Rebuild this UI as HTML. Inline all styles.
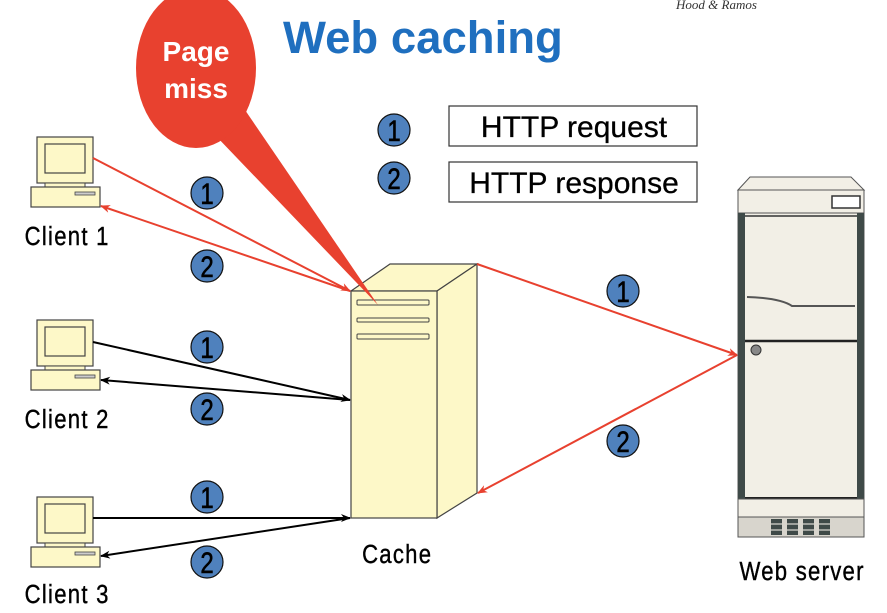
<!DOCTYPE html>
<html><head><style>
body{margin:0;background:#fff;}
svg{display:block;font-family:"Liberation Sans",sans-serif;}
</style></head><body>
<svg width="887" height="613" viewBox="0 0 887 613" xmlns="http://www.w3.org/2000/svg">
<defs>
<marker id="ar" markerWidth="10" markerHeight="8" refX="9" refY="4" orient="auto" markerUnits="userSpaceOnUse"><path d="M0,0 L10,4 L0,8 L3,4z" fill="#e8412f"/></marker>
<marker id="ab" markerWidth="10" markerHeight="8" refX="9" refY="4" orient="auto" markerUnits="userSpaceOnUse"><path d="M0,0 L10,4 L0,8 L3,4z" fill="#000"/></marker>
<g id="pc">
<rect x="37" y="0" width="56" height="46" fill="#fdf8c8" stroke="#444" stroke-width="1.2"/>
<rect x="45" y="7" width="40" height="29" fill="#fdf8c8" stroke="#444" stroke-width="1.2"/>
<rect x="45" y="46" width="40" height="4" fill="#fdf8c8" stroke="#444"/>
<rect x="31" y="50" width="69" height="20" fill="#fdf8c8" stroke="#444" stroke-width="1.2"/>
<rect x="75" y="55" width="20" height="3" fill="#ccc" stroke="#444" stroke-width="0.8"/>
</g>
</defs>
<text x="283" y="53" font-size="45.5" font-weight="bold" fill="#1f6fbf">Web caching</text>
<text x="676" y="9" font-size="13" font-style="italic" fill="#333" font-family="Liberation Serif,serif">Hood &amp; Ramos</text>

<use href="#pc" y="137"/>
<use href="#pc" y="320"/>
<use href="#pc" y="497"/>
<g font-size="26" fill="#000" stroke="#000" stroke-width="0.4" letter-spacing="1.5" transform="scale(0.85,1)">
<text x="29" y="245">Client 1</text>
<text x="29" y="428">Client 2</text>
<text x="29" y="603">Client 3</text>
<text x="426" y="563">Cache</text>
<text x="870" y="580">Web server</text>
</g>

<polygon points="351,291 390,264 477,264 437,291" fill="#fdf8c8" stroke="#444" stroke-width="1.2"/>
<polygon points="437,291 477,264 477,493 437,518" fill="#fdf8c8" stroke="#444" stroke-width="1.2"/>
<rect x="351" y="291" width="86" height="227" fill="#fdf8c8" stroke="#444" stroke-width="1.2"/>
<rect x="357" y="300" width="72" height="5" rx="1" fill="#fdf8c8" stroke="#444"/>
<rect x="357" y="318" width="72" height="4" rx="1" fill="#fdf8c8" stroke="#444"/>
<rect x="357" y="334" width="72" height="5" rx="1" fill="#fdf8c8" stroke="#444"/>

<polygon points="738,190 750,177 851,177 864,190" fill="#f2efe6" stroke="#555"/>
<rect x="738" y="190" width="126" height="23" fill="#f2efe6" stroke="#555"/>
<rect x="832" y="196" width="28" height="12" fill="#fff" stroke="#333" stroke-width="1.5"/>
<rect x="738" y="213" width="126" height="286" fill="#f2efe6" stroke="#555"/>
<rect x="738" y="213" width="7" height="286" fill="#3f4a48"/>
<rect x="857" y="213" width="7" height="286" fill="#3f4a48"/>
<line x1="745" y1="216" x2="857" y2="216" stroke="#333" stroke-width="1.5"/>
<path d="M747,297 Q780,298 792,306 L855,306" fill="none" stroke="#555" stroke-width="2"/>
<line x1="745" y1="341" x2="857" y2="341" stroke="#222" stroke-width="2.5"/>
<circle cx="756" cy="350" r="5" fill="#888" stroke="#333"/>
<line x1="745" y1="498" x2="857" y2="498" stroke="#222" stroke-width="2"/>
<rect x="738" y="499" width="126" height="18" fill="#f2efe6" stroke="#555"/>
<rect x="738" y="517" width="126" height="20" fill="#d8d5cd" stroke="#555"/>
<g fill="#3f4a48"><rect x="771" y="519" width="11" height="16"/><rect x="787" y="519" width="11" height="16"/><rect x="803" y="519" width="11" height="16"/><rect x="819" y="519" width="11" height="16"/></g>
<g stroke="#d8d5cd" stroke-width="1.2"><line x1="770" y1="524" x2="832" y2="524"/><line x1="770" y1="530" x2="832" y2="530"/></g>

<g stroke="#e8412f" stroke-width="2" fill="none">
<line x1="93" y1="158" x2="350" y2="291" marker-end="url(#ar)"/>
<line x1="350" y1="291" x2="101" y2="206" marker-end="url(#ar)"/>
<line x1="477" y1="264" x2="737" y2="355" marker-end="url(#ar)"/>
<line x1="737" y1="355" x2="478" y2="493" marker-end="url(#ar)"/>
</g>
<g stroke="#000" stroke-width="2" fill="none">
<line x1="93" y1="342" x2="350" y2="400" marker-end="url(#ab)"/>
<line x1="350" y1="400" x2="101" y2="380" marker-end="url(#ab)"/>
<line x1="93" y1="518" x2="350" y2="518" marker-end="url(#ab)"/>
<line x1="350" y1="518" x2="101" y2="556" marker-end="url(#ab)"/>
</g>

<path d="M215,135 L378,305 L245,110 Z" fill="#e8412f"/>
<ellipse cx="196" cy="68" rx="60" ry="80" fill="#e8412f"/>
<g font-size="28" font-weight="bold" fill="#fff" text-anchor="middle">
<text x="196" y="61">Page</text>
<text x="196" y="98">miss</text>
</g>

<g fill="#4f81bd" stroke="#111" stroke-width="1.2">
<circle cx="207" cy="193" r="16"/><circle cx="207" cy="266" r="16"/>
<circle cx="207" cy="347" r="16"/><circle cx="207" cy="409" r="16"/>
<circle cx="207" cy="497" r="16"/><circle cx="207" cy="562" r="16"/>
<circle cx="394" cy="130" r="16"/><circle cx="394" cy="178" r="16"/>
<circle cx="623" cy="291" r="16"/><circle cx="623" cy="441" r="16"/>
</g>
<g font-size="30" fill="#000" stroke="#000" stroke-width="0.6" text-anchor="middle" transform="scale(0.8,1)">
<text x="258.75" y="204">1</text><text x="258.75" y="277">2</text>
<text x="258.75" y="358">1</text><text x="258.75" y="420">2</text>
<text x="258.75" y="508">1</text><text x="258.75" y="573">2</text>
<text x="492.5" y="141">1</text><text x="492.5" y="189">2</text>
<text x="778.75" y="302">1</text><text x="778.75" y="452">2</text>
</g>

<rect x="449" y="106" width="248" height="40" fill="#fff" stroke="#333" stroke-width="1.2"/>
<rect x="449" y="162" width="248" height="40" fill="#fff" stroke="#333" stroke-width="1.2"/>
<g font-size="30" fill="#000" stroke="#000" stroke-width="0.3" text-anchor="middle">
<text x="574" y="137">HTTP request</text>
<text x="574" y="193">HTTP response</text>
</g>
</svg>
</body></html>
